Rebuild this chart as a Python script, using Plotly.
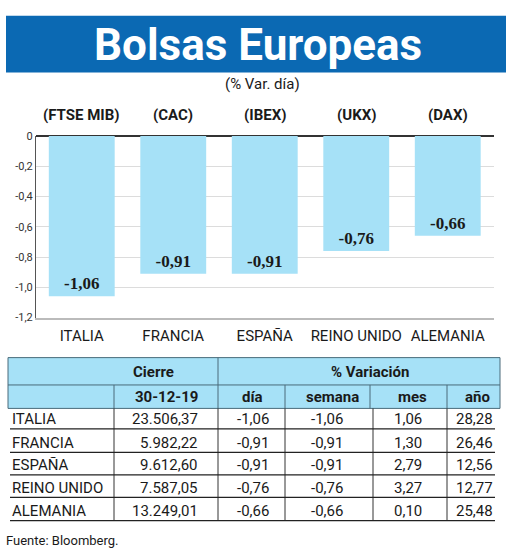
import plotly.graph_objects as go

# Datos del gráfico
paises = ["ITALIA", "FRANCIA", "ESPAÑA", "REINO UNIDO", "ALEMANIA"]
indices = ["(FTSE MIB)", "(CAC)", "(IBEX)", "(UKX)", "(DAX)"]
var_dia = [-1.06, -0.91, -0.91, -0.76, -0.66]
y_ticks = [0, -0.2, -0.4, -0.6, -0.8, -1.0, -1.2]
y_ticktext = ["0", "-0,2", "-0,4", "-0,6", "-0,8", "-1,0", "-1,2"]

# Datos de la tabla
cierre = [23506.37, 5982.22, 9612.60, 7587.05, 13249.01]
semana = [-1.06, -0.91, -0.91, -0.76, -0.66]
mes = [1.06, 1.30, 2.79, 3.27, 0.10]
anio = [28.28, 26.46, 12.56, 12.77, 25.48]
fecha = "30-12-19"

W, H = 520, 558
BLUE = "#0b69b3"
LIGHT = "#a6e1f7"
DARK = "#1a1a1a"
NARROW = "Liberation Sans Narrow, Roboto, sans-serif"


def px(x):
    return x / W


def py(y):
    return 1 - y / H


def es(v, dec=2):
    s = f"{v:,.{dec}f}"
    return s.replace(",", "X").replace(".", ",").replace("X", ".")


def note(text, x, y, size, xanchor="center", bold=False, color=DARK, xref="paper"):
    if bold:
        text = f"<b>{text}</b>"
    return dict(text=text, x=x if xref != "paper" else px(x), y=py(y),
                xref=xref, yref="paper", xanchor=xanchor, yanchor="middle",
                showarrow=False, font=dict(family=NARROW, size=size, color=color))


fig = go.Figure()

fig.add_trace(go.Bar(
    x=paises, y=var_dia,
    marker=dict(color=LIGHT, line=dict(width=0)),
    texttemplate="%{y:.2f}",
    textposition="inside",
    insidetextanchor="end",
    textangle=0,
    textfont=dict(family="Liberation Serif", size=17, color=DARK, weight="bold"),
    hoverinfo="skip",
    showlegend=False,
))

shapes = []
ann = []

# cabecera azul
shapes.append(dict(type="rect", xref="paper", yref="paper",
                   x0=px(6), x1=px(506), y0=py(68), y1=py(10),
                   fillcolor=BLUE, line=dict(width=0), layer="below"))
ann.append(note("Bolsas Europeas", 258, 40, 44, bold=True, color="white"))
ann.append(note("(% Var. día)", 262, 80, 15))

# índices sobre las barras
for p, idx in zip(paises, indices):
    ann.append(note(idx, p, 112, 15, bold=True, xref="x"))

# tabla
tl, tr = 8, 500
shapes.append(dict(type="rect", xref="paper", yref="paper",
                   x0=px(tl), x1=px(tr), y0=py(412), y1=py(360),
                   fillcolor=LIGHT, line=dict(width=1, color="#4a6b7a")))


def hline(y, x0, x1, color="#333", w=1.0):
    shapes.append(dict(type="line", xref="paper", yref="paper",
                       x0=px(x0), x1=px(x1), y0=py(y), y1=py(y),
                       line=dict(color=color, width=w)))


def vline(x, y0, y1, color="#333", w=1.0):
    shapes.append(dict(type="line", xref="paper", yref="paper",
                       x0=px(x), x1=px(x), y0=py(y0), y1=py(y1),
                       line=dict(color=color, width=w)))


hline(388, tl, tr, "#4a6b7a")
vline(218, 360, 412, "#4a6b7a")
for x in [114, 285, 370, 447]:
    vline(x, 388, 412, "#4a6b7a")
for x in [114, 218, 285, 373, 447]:
    vline(x, 412, 527)

row_lines = [433, 457, 480, 503, 527]
for y in row_lines:
    hline(y, 10, 495, "#222", 1.2)

for txt, x, y in [("Cierre", 153, 375), ("% Variación", 370, 375),
                  (fecha, 166, 400), ("día", 252, 400), ("semana", 332, 400),
                  ("mes", 412, 400), ("año", 477, 400)]:
    ann.append(note(txt, x, y, 15, bold=True))

cols = [(cierre, 200), (var_dia, 271), (semana, 345), (mes, 424), (anio, 495)]
for i, p in enumerate(paises):
    yc = row_lines[i] - 10
    ann.append(note(p, 10, yc, 15, xanchor="left"))
    for vals, xr in cols:
        ann.append(note(es(vals[i]), xr, yc, 15, xanchor="right"))

ann.append(note("Fuente: Bloomberg.", 4, 547, 13, xanchor="left"))

fig.update_layout(
    width=W, height=H,
    margin=dict(l=0, r=0, t=0, b=0),
    paper_bgcolor="white", plot_bgcolor="white",
    separators=",.",
    bargap=0.28,
    shapes=shapes,
    annotations=ann,
    xaxis=dict(domain=[px(36), px(493.5)], showline=True, linecolor="#bbb", linewidth=1.5,
               ticks="outside", ticklen=4, tickcolor="rgba(0,0,0,0)",
               tickfont=dict(family=NARROW, size=15, color=DARK), fixedrange=True),
    yaxis=dict(domain=[py(319), py(133)], range=[-1.2, 0], tickvals=y_ticks, ticktext=y_ticktext,
               showgrid=True, gridcolor="#dcdcdc", gridwidth=1.2,
               zeroline=True, zerolinecolor="#333", zerolinewidth=1.5,
               showline=True, linecolor="#555", linewidth=1,
               tickfont=dict(family=NARROW, size=11, color="#333"), fixedrange=True),
)

fig.write_html("out.html", config={"displayModeBar": False},
               post_script="document.body.style.margin='0';")
